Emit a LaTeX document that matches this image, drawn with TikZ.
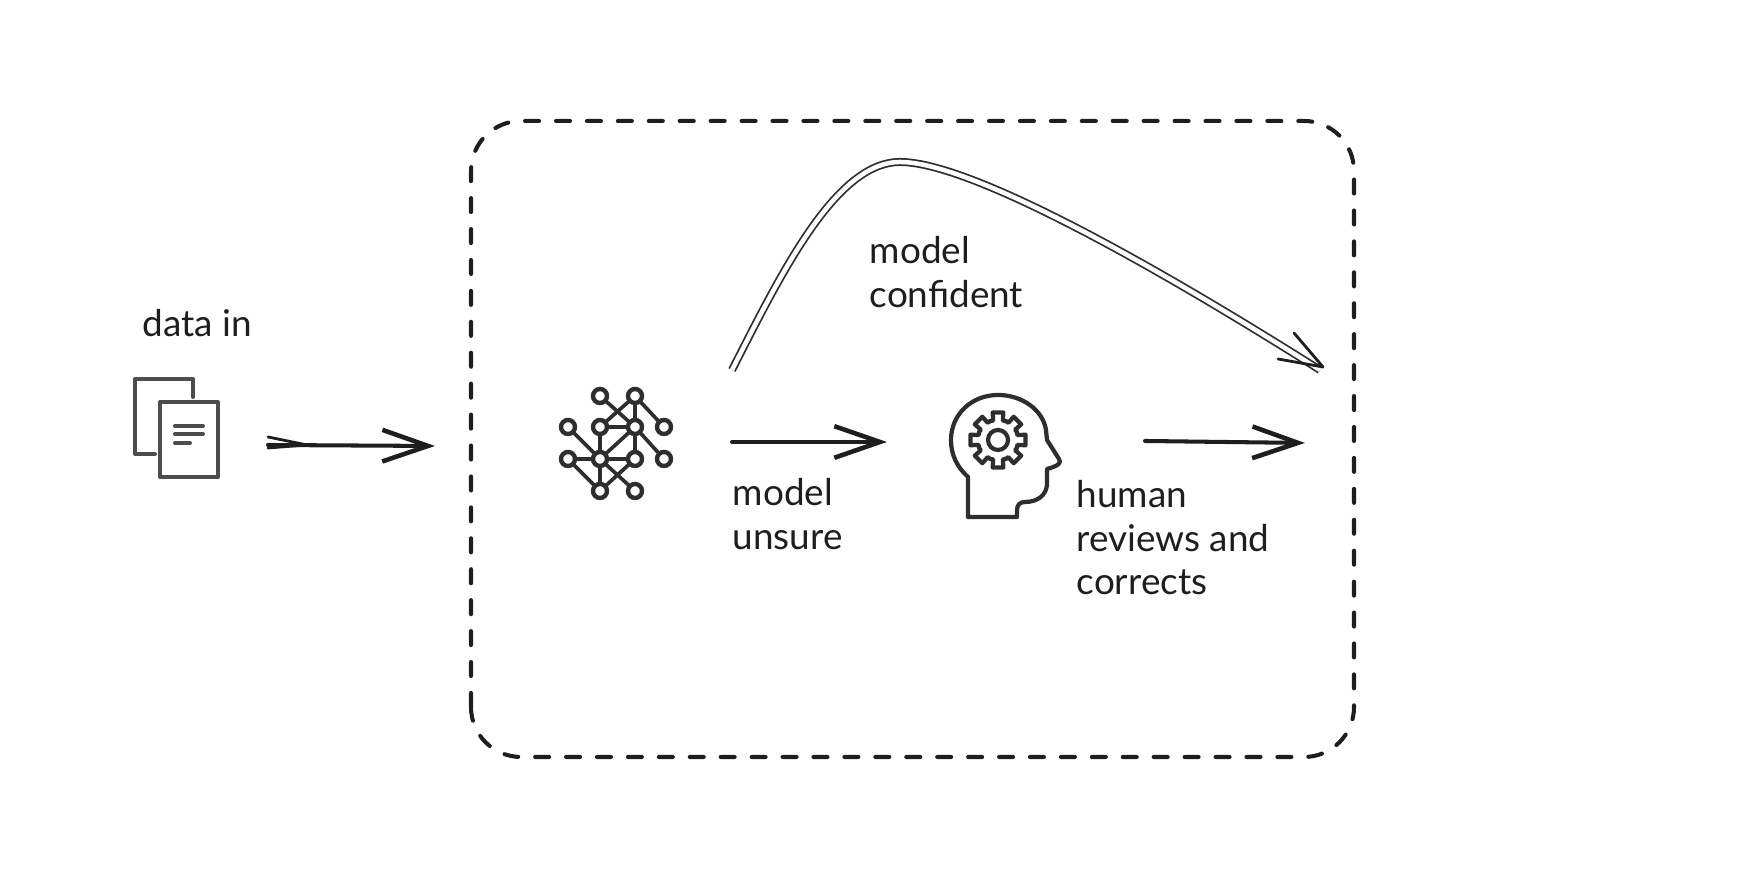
\documentclass[tikz,border=0pt]{standalone}
\usepackage{fontspec}
\setmainfont{Lato}
\usetikzlibrary{arrows.meta}
\definecolor{inkline}{HTML}{1E1E1E}
\definecolor{docgray}{HTML}{4D4D4D}
\definecolor{icongray}{HTML}{2E2E2E}
\tikzset{
	label/.style={anchor=north west,align=left,inner sep=0pt,text=inkline,font=\fontsize{10.5}{12.3}\selectfont},
	flow/.style={inkline,line width=1.15pt,line cap=round,-{Straight Barb[length=13pt,width=9pt,line width=1.3pt]}},
	sketch/.style={inkline,line width=0.8pt,line cap=round,line join=round},
	docline/.style={docgray,line width=1.15pt,line join=round,line cap=round},
	netnode/.style={circle,draw=icongray,line width=1.25pt,inner sep=0pt,outer sep=0pt,minimum size=0.14cm},
	netline/.style={icongray,line width=1.05pt},
	headline/.style={icongray,line width=1.2pt,line join=round,line cap=round},
}
\begin{document}
\begin{tikzpicture}
	\useasboundingbox (0,0) rectangle (17.52,8.7);

	% dashed frame
	\draw[inkline,line width=1.15pt,line cap=round,dash pattern=on 4pt off 4.8pt,rounded corners=0.5cm] (4.71,1.13) rectangle (13.54,7.49);

	% documents
	\draw[docline] (1.93,4.73) -- (1.93,4.91) -- (1.35,4.91) -- (1.35,4.16) -- (1.55,4.16);
	\draw[docline] (1.60,3.93) rectangle (2.18,4.68);
	\draw[docline] (1.75,4.44) -- (2.03,4.44);
	\draw[docline] (1.75,4.36) -- (2.03,4.36);
	\draw[docline] (1.75,4.27) -- (1.90,4.27);

	% network
	\foreach \name/\x/\y in {a1/6.00/4.74,a2/6.35/4.74,
			b1/5.68/4.43,b2/6.00/4.43,b3/6.35/4.43,b4/6.64/4.43,
			c1/5.68/4.11,c2/6.00/4.11,c3/6.35/4.11,c4/6.64/4.11,
			d1/6.00/3.79,d2/6.35/3.79}
		\node[netnode] (\name) at (\x,\y) {};
	\foreach \from/\to in {a1/b3,b3/c4,a2/b2,a2/b3,a2/b4,b1/c2,b2/b3,b2/c2,b3/c2,b3/c3,
			c1/c2,c2/c3,c1/d1,c2/d1,c2/d2,c3/d1}
		\draw[netline] (\from) -- (\to);

	% head
	\draw[headline] (9.68,3.53) -- (9.68,3.93)
		.. controls (9.57,4.03) and (9.51,4.15) .. (9.51,4.30)
		.. controls (9.51,4.56) and (9.72,4.75) .. (9.98,4.75)
		.. controls (10.22,4.75) and (10.43,4.60) .. (10.46,4.40)
		-- (10.47,4.30) -- (10.59,4.11)
		.. controls (10.62,4.07) and (10.58,4.04) .. (10.47,4.01)
		-- (10.47,3.85)
		.. controls (10.46,3.75) and (10.38,3.68) .. (10.25,3.68)
		.. controls (10.20,3.68) and (10.17,3.65) .. (10.17,3.60)
		-- (10.17,3.53) -- cycle;
	\coordinate (gear) at (9.98,4.30);
	\draw[headline] (gear) circle (0.10);
	\foreach \a in {0,45,...,315}
		\draw[headline,shift={(gear)}] (\a-22.5:0.205) -- (\a-14:0.20) -- (\a-11:0.28) -- (\a+11:0.28) -- (\a+14:0.20) -- (\a+22.5:0.205);

	% arrows
	\coordinate (docOut) at (2.68,4.25);
	\coordinate (docTailA) at (2.68,4.33);
	\coordinate (docTailB) at (2.68,4.22);
	\coordinate (docJoin) at (3.07,4.25);
	\coordinate (frameIn) at (4.35,4.24);
	\coordinate (netOut) at (7.32,4.28);
	\coordinate (headIn) at (8.87,4.28);
	\coordinate (headOut) at (11.45,4.29);
	\coordinate (frameEnd) at (13.05,4.27);
	\draw[flow] (docOut) -- (frameIn);
	\draw[sketch] (docTailA) -- (docJoin) -- (docTailB);
	\draw[flow] (netOut) -- (headIn);
	\draw[flow] (headOut) -- (frameEnd);

	% confident path
	\coordinate (curveStart) at (7.32,5.00);
	\coordinate (curveTop) at (9.00,7.08);
	\coordinate (curveEnd) at (13.20,5.00);
	\coordinate (curveTip) at (13.23,5.03);
	\coordinate (barbA) at (12.94,5.37);
	\coordinate (barbB) at (12.78,5.11);
	\draw[draw=icongray,double=white,line width=0.5pt,double distance=1.28pt] (curveStart)
		.. controls (7.80,5.94) and (8.35,7.08) .. (curveTop)
		.. controls (9.65,7.08) and (11.30,6.20) .. (curveEnd);
	\draw[sketch] (barbA) -- (curveTip) -- (barbB);

	% labels
	\node[label] (dataLabel) at (1.42,5.61) {data in};
	\node[label] (confidentLabel) at (8.69,6.34) {model\\confident};
	\node[label] (unsureLabel) at (7.32,3.92) {model\\unsure};
	\node[label] (humanLabel) at (10.76,3.90) {human\\reviews and\\corrects};
\end{tikzpicture}
\end{document}
